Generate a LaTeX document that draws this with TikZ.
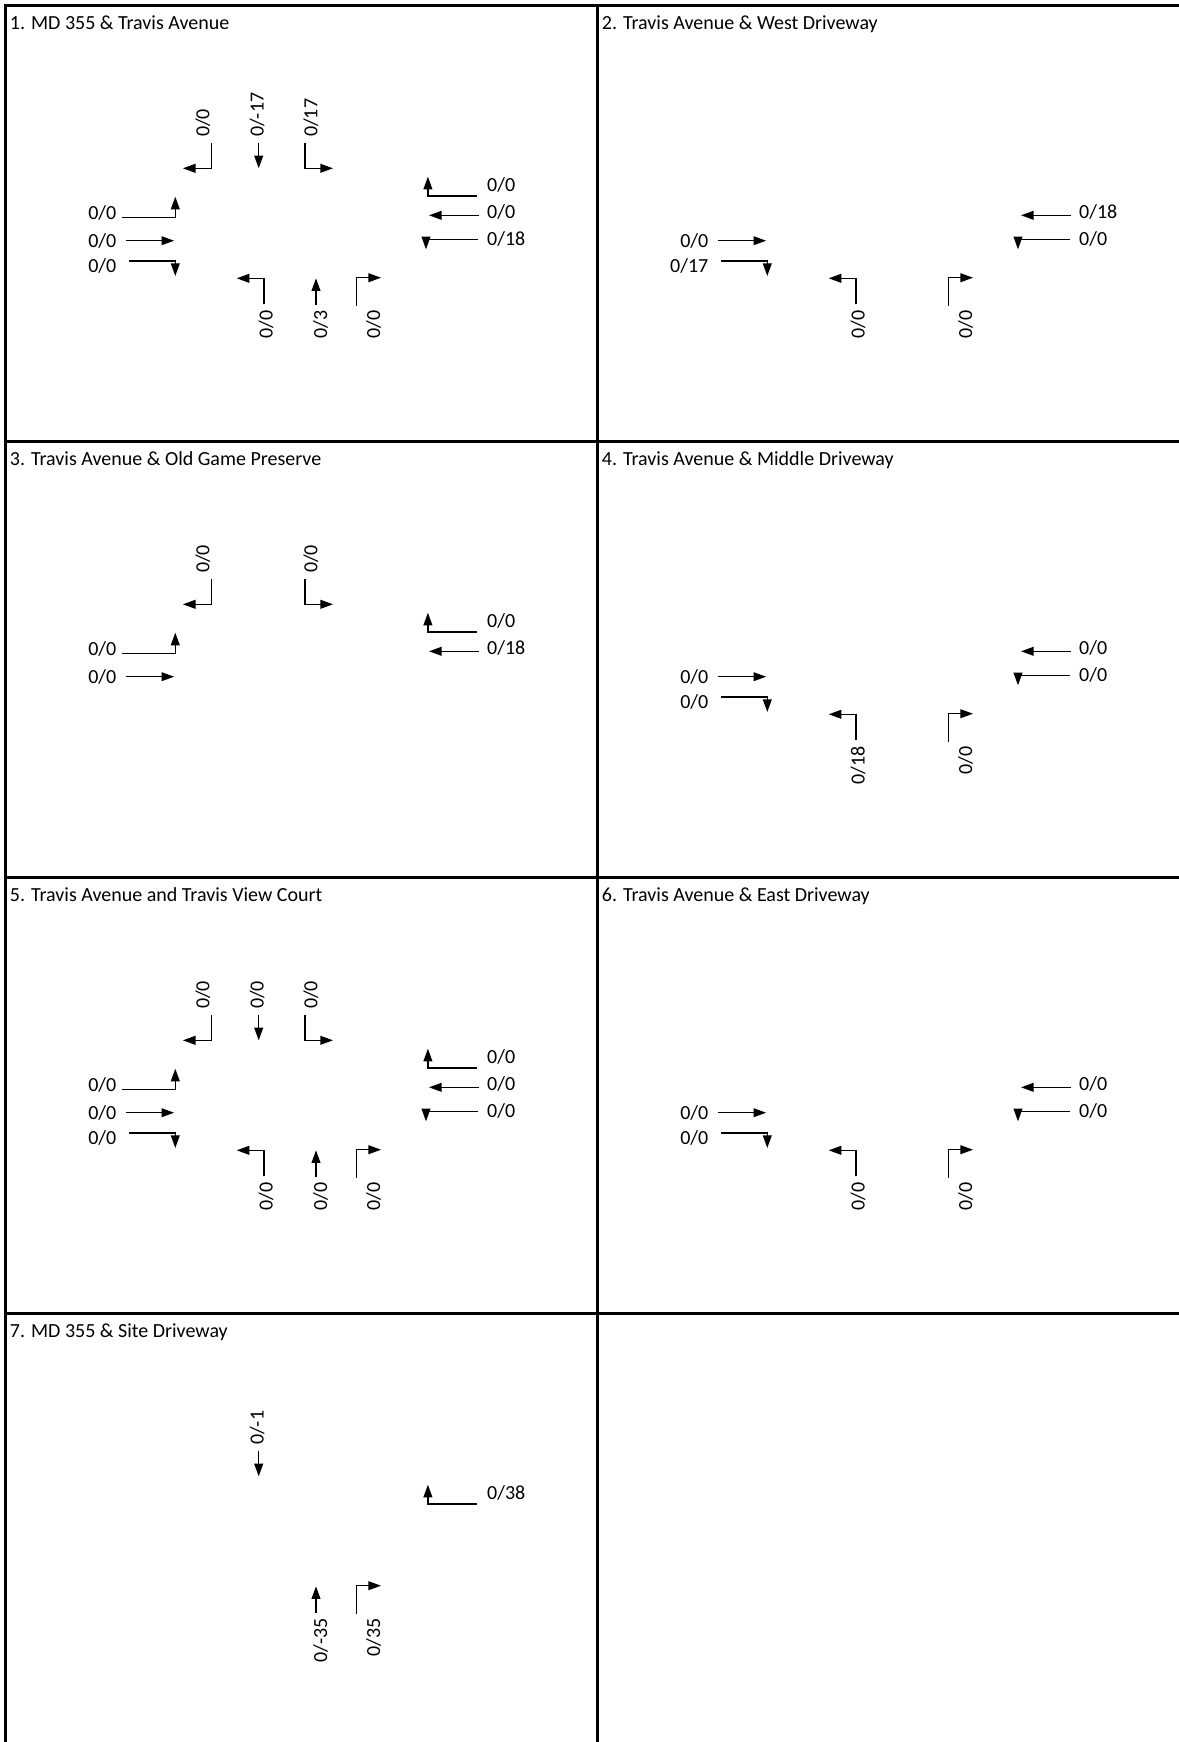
\documentclass[tikz,border=0pt]{standalone}
\usepackage{fontspec}
\setmainfont{Carlito}
\usetikzlibrary{arrows.meta}
\tikzset{
  mv/.style={line width=0.65pt, -{Triangle[length=6.3pt,width=4.4pt]}, line join=miter},
  tlab/.style={rotate=90, anchor=west, inner sep=0pt},
  blab/.style={rotate=90, anchor=east, inner sep=0pt},
  elab/.style={anchor=east, inner sep=0pt},
  wlab/.style={anchor=west, inner sep=0pt},
  ttl/.style={anchor=base west, inner sep=0pt},
  gridline/.style={line width=1.5pt}
}
% southbound
\newcommand\mvA[1]{\draw[mv] (206.6,137.7) -- (206.6,163.3) -- (177.9,163.3);
  \node[tlab] (lA) at (197.8,132.3) {#1};}
\newcommand\mvB[1]{\draw[mv] (253.7,138.3) -- (253.7,163.3);
  \node[tlab] (lB) at (252.2,132.3) {#1};}
\newcommand\mvC[1]{\draw[mv] (300,137.7) -- (300,163.3) -- (328,163.3);
  \node[tlab] (lC) at (305.8,132.3) {#1};}
% eastbound
\newcommand\mvD[1]{\draw[mv] (116.7,212.8) -- (170.3,212.8) -- (170.3,191.7);
  \node[elab] (lD) at (111.7,207.8) {#1};}
\newcommand\mvE[1]{\draw[mv] (121.3,235.7) -- (169.1,235.7);
  \node[elab] (lE) at (111.7,235.7) {#1};}
\newcommand\mvF[1]{\draw[mv] (123.6,256) -- (170.3,256) -- (170.3,271);
  \node[elab] (lF) at (111.7,261.3) {#1};}
% westbound
\newcommand\mvG[1]{\draw[mv] (472.2,191) -- (422.9,191) -- (422.9,171.7);
  \node[wlab] (lG) at (481.8,180) {#1};}
\newcommand\mvH[1]{\draw[mv] (474,210.3) -- (424,210.3);
  \node[wlab] (lH) at (481.8,206.8) {#1};}
\newcommand\mvI[1]{\draw[mv] (472.7,234.3) -- (421,234.3) -- (421,244.3);
  \node[wlab] (lI) at (481.8,234.2) {#1};}
% northbound
\newcommand\mvJ[1]{\draw[mv] (259,299.3) -- (259,273.3) -- (231.7,273.3);
  \node[blab] (lJ) at (261,305) {#1};}
\newcommand\mvK[1]{\draw[mv] (311,300) -- (311,273.3);
  \node[blab] (lK) at (315.5,305) {#1};}
\newcommand\mvL[1]{\draw[mv] (351.7,300.7) -- (351.7,272.7) -- (376,272.7);
  \node[blab] (lL) at (368.5,305) {#1};}
\begin{document}
\begin{tikzpicture}[x=0.5pt, y=-0.5pt, font=\fontsize{10pt}{12pt}\selectfont]
\useasboundingbox (0,0) rectangle (1179,1742);
% grid
\draw[gridline] (1179,5) -- (5,5) -- (5,1742);
\draw[gridline] (597,5) -- (597,1742);
\draw[gridline] (5,441) -- (1179,441);
\draw[gridline] (5,877) -- (1179,877);
\draw[gridline] (5,1313) -- (1179,1313);
% panel 1
\begin{scope}[shift={(5,5)}, name prefix=p1-]
  \node[ttl] (ttl) at (4.5,24.3) {1. MD 355 \& Travis Avenue};
  \mvA{0/0}\mvB{0/-17}\mvC{0/17}
  \mvD{0/0}\mvE{0/0}\mvF{0/0}
  \mvG{0/0}\mvH{0/0}\mvI{0/18}
  \mvJ{0/0}\mvK{0/3}\mvL{0/0}
\end{scope}
% panel 2
\begin{scope}[shift={(597,5)}, name prefix=p2-]
  \node[ttl] (ttl) at (4.5,24.3) {2. Travis Avenue \& West Driveway};
  \mvE{0/0}\mvF{0/17}
  \mvH{0/18}\mvI{0/0}
  \mvJ{0/0}\mvL{0/0}
\end{scope}
% panel 3
\begin{scope}[shift={(5,441)}, name prefix=p3-]
  \node[ttl] (ttl) at (4.5,24.3) {3. Travis Avenue \& Old Game Preserve};
  \mvA{0/0}\mvC{0/0}
  \mvD{0/0}\mvE{0/0}
  \mvG{0/0}\mvH{0/18}
\end{scope}
% panel 4
\begin{scope}[shift={(597,441)}, name prefix=p4-]
  \node[ttl] (ttl) at (4.5,24.3) {4. Travis Avenue \& Middle Driveway};
  \mvE{0/0}\mvF{0/0}
  \mvH{0/0}\mvI{0/0}
  \mvJ{0/18}\mvL{0/0}
\end{scope}
% panel 5
\begin{scope}[shift={(5,877)}, name prefix=p5-]
  \node[ttl] (ttl) at (4.5,24.3) {5. Travis Avenue and Travis View Court};
  \mvA{0/0}\mvB{0/0}\mvC{0/0}
  \mvD{0/0}\mvE{0/0}\mvF{0/0}
  \mvG{0/0}\mvH{0/0}\mvI{0/0}
  \mvJ{0/0}\mvK{0/0}\mvL{0/0}
\end{scope}
% panel 6
\begin{scope}[shift={(597,877)}, name prefix=p6-]
  \node[ttl] (ttl) at (4.5,24.3) {6. Travis Avenue \& East Driveway};
  \mvE{0/0}\mvF{0/0}
  \mvH{0/0}\mvI{0/0}
  \mvJ{0/0}\mvL{0/0}
\end{scope}
% panel 7
\begin{scope}[shift={(5,1313)}, name prefix=p7-]
  \node[ttl] (ttl) at (4.5,24.3) {7. MD 355 \& Site Driveway};
  \mvB{0/-1}
  \mvG{0/38}
  \mvK{0/-35}\mvL{0/35}
\end{scope}
\end{tikzpicture}
\end{document}
